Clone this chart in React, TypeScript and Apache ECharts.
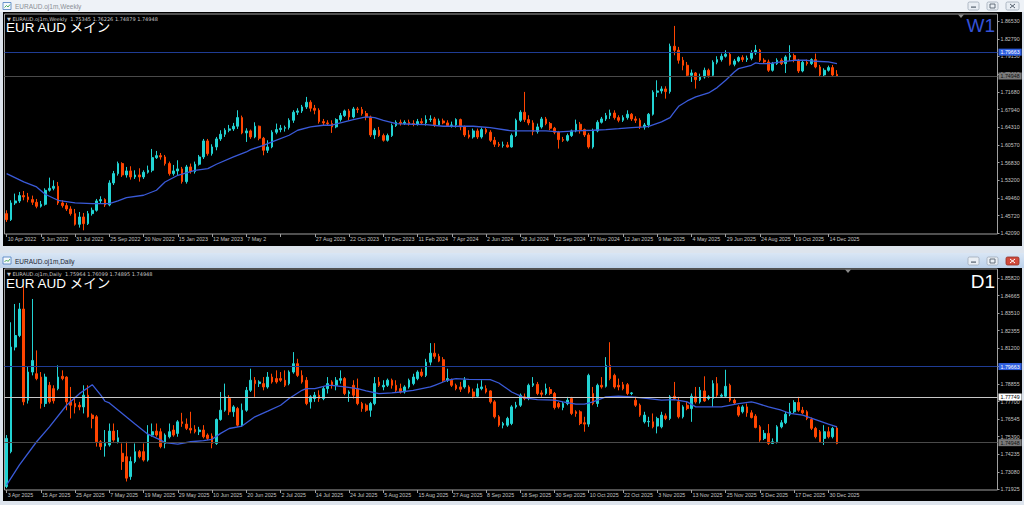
import React, { useEffect, useRef } from "react";
import * as echarts from "echarts";

// ---------- Weekly (W1) ----------
const W_TICKS = ["10 Apr 2022","5 Jun 2022","31 Jul 2022","25 Sep 2022","20 Nov 2022","15 Jan 2023","12 Mar 2023","7 May 2","","27 Aug 2023","22 Oct 2023","17 Dec 2023","11 Feb 2024","7 Apr 2024","2 Jun 2024","28 Jul 2024","22 Sep 2024","17 Nov 2024","12 Jan 2025","9 Mar 2025","4 May 2025","29 Jun 2025","24 Aug 2025","19 Oct 2025","14 Dec 2025"];
const W_PRICE_TICKS = [1.8653,1.8279,1.7915,1.7541,1.7168,1.6794,1.6431,1.6057,1.5683,1.532,1.4946,1.4572,1.4209];

const W_OPEN = [1.4615,1.4489,1.4839,1.4881,1.4993,1.4965,1.4909,1.4853,1.4769,1.4811,
1.5104,1.5146,1.5188,1.4839,1.4783,1.4713,1.4615,1.4391,1.4545,1.4405,
1.4615,1.4685,1.4881,1.4909,1.4797,1.5258,1.5454,1.5664,1.5426,1.5510,
1.5384,1.5426,1.5384,1.5482,1.5524,1.5789,1.5831,1.5803,1.5664,1.5454,
1.5510,1.5552,1.5286,1.5594,1.5496,1.5650,1.5803,1.6139,1.5873,1.6013,
1.6181,1.6279,1.6363,1.6391,1.6447,1.6628,1.6307,1.6349,1.6223,1.6447,
1.6195,1.5943,1.6013,1.6321,1.6377,1.6405,1.6419,1.6572,1.6740,1.6768,
1.6852,1.6950,1.6824,1.6782,1.6544,1.6517,1.6503,1.6433,1.6586,1.6670,
1.6768,1.6642,1.6810,1.6796,1.6712,1.6642,1.6265,1.6363,1.6251,1.6153,
1.6251,1.6461,1.6530,1.6503,1.6530,1.6503,1.6489,1.6544,1.6517,1.6586,
1.6600,1.6475,1.6558,1.6517,1.6461,1.6475,1.6586,1.6433,1.6265,1.6223,
1.6349,1.6223,1.6377,1.6321,1.6153,1.6069,1.6048,1.6055,1.6013,1.6251,
1.6572,1.6740,1.6586,1.6517,1.6335,1.6433,1.6600,1.6503,1.6405,1.6321,
1.6167,1.6153,1.6251,1.6349,1.6489,1.6377,1.6265,1.6013,1.6349,1.6530,1.6600,
1.6670,1.6725,1.6628,1.6572,1.6628,1.6698,1.6600,1.6572,1.6432,1.6474,
1.6698,1.7159,1.7187,1.7229,1.7173,1.8124,1.8040,1.7830,1.7725,1.7515,
1.7564,1.7424,1.7480,1.7620,1.7515,1.7788,1.7844,1.7914,1.7956,1.7746,
1.7816,1.7886,1.7844,1.7872,1.7984,1.8040,1.7830,1.7795,1.7620,1.7760,
1.7830,1.7760,1.7900,1.7928,1.7830,1.7606,1.7788,1.7760,1.7844,1.7690,
1.7522,1.7620,1.7676,1.75345];
const W_CLOSE = [1.4489,1.4839,1.4881,1.4993,1.4965,1.4909,1.4853,1.4769,1.4811,1.5104,
1.5146,1.5188,1.4839,1.4783,1.4713,1.4615,1.4391,1.4545,1.4405,1.4615,
1.4685,1.4881,1.4909,1.4797,1.5258,1.5454,1.5664,1.5426,1.5510,1.5384,
1.5426,1.5384,1.5482,1.5524,1.5789,1.5831,1.5803,1.5664,1.5454,1.5510,
1.5552,1.5286,1.5594,1.5496,1.5650,1.5803,1.6139,1.5873,1.6013,1.6181,
1.6279,1.6363,1.6391,1.6447,1.6628,1.6307,1.6349,1.6223,1.6447,1.6195,
1.5943,1.6013,1.6321,1.6377,1.6405,1.6419,1.6572,1.6740,1.6768,1.6852,
1.6950,1.6824,1.6782,1.6544,1.6517,1.6503,1.6433,1.6586,1.6670,1.6768,
1.6642,1.6810,1.6796,1.6712,1.6642,1.6265,1.6363,1.6251,1.6153,1.6251,
1.6461,1.6530,1.6503,1.6530,1.6503,1.6489,1.6544,1.6517,1.6586,1.6600,
1.6475,1.6558,1.6517,1.6461,1.6475,1.6586,1.6433,1.6265,1.6223,1.6349,
1.6223,1.6377,1.6321,1.6153,1.6069,1.6048,1.6055,1.6013,1.6251,1.6572,
1.6740,1.6586,1.6517,1.6335,1.6433,1.6600,1.6503,1.6405,1.6321,1.6167,
1.6153,1.6251,1.6349,1.6489,1.6377,1.6265,1.6013,1.6349,1.6530,1.6600,1.6670,
1.6725,1.6628,1.6572,1.6628,1.6698,1.6600,1.6572,1.6432,1.6474,1.6698,
1.7159,1.7187,1.7229,1.7173,1.8124,1.8040,1.7830,1.7725,1.7515,1.7564,
1.7424,1.7480,1.7620,1.7515,1.7788,1.7844,1.7914,1.7956,1.7746,1.7816,
1.7886,1.7844,1.7872,1.7984,1.8040,1.7830,1.7795,1.7620,1.7760,1.7830,
1.7760,1.7900,1.7928,1.7830,1.7606,1.7788,1.7760,1.7844,1.7690,1.7522,
1.7620,1.7676,1.7522,1.74948];
const W_HIGH = [1.4685,1.4895,1.5035,1.5070,1.5090,1.5049,1.4993,1.4923,1.4881,1.5146,
1.5370,1.5314,1.5279,1.4895,1.4839,1.4769,1.4713,1.4650,1.4629,1.4671,
1.4741,1.4923,1.4979,1.4937,1.5314,1.5510,1.5706,1.5692,1.5594,1.5608,
1.5524,1.5566,1.5524,1.5622,1.5971,1.5929,1.5887,1.5845,1.5706,1.5636,
1.5734,1.5594,1.5636,1.5664,1.5706,1.5845,1.6181,1.6181,1.6069,1.6223,
1.6363,1.6405,1.6475,1.6517,1.6782,1.6670,1.6405,1.6377,1.6530,1.6461,
1.6223,1.6153,1.6363,1.6503,1.6475,1.6461,1.6614,1.6782,1.6824,1.6894,
1.7062,1.6992,1.6894,1.6824,1.6600,1.6572,1.6572,1.6614,1.6726,1.6796,
1.6810,1.6852,1.6852,1.6852,1.6768,1.6670,1.6405,1.6433,1.6293,1.6293,
1.6503,1.6572,1.6586,1.6572,1.6586,1.6572,1.6600,1.6614,1.6677,1.6677,
1.6642,1.6607,1.6607,1.6572,1.6544,1.6614,1.6607,1.6461,1.6363,1.6398,
1.6398,1.6419,1.6419,1.6363,1.6223,1.6118,1.6125,1.6118,1.6293,1.6607,
1.6782,1.7167,1.6677,1.6572,1.6503,1.6642,1.6642,1.6537,1.6433,1.6349,
1.6223,1.6293,1.6377,1.6586,1.6537,1.6398,1.6307,1.6398,1.6572,1.6642,1.6726,
1.6795,1.6781,1.6677,1.6677,1.6781,1.6725,1.6656,1.6614,1.6516,1.6725,
1.7201,1.7410,1.7285,1.7285,1.8179,1.8550,1.8110,1.7900,1.7795,1.7634,
1.7585,1.7550,1.7676,1.7655,1.7830,1.7914,1.7970,1.8040,1.7984,1.7858,
1.7914,1.7935,1.7928,1.8040,1.8151,1.8068,1.7872,1.7844,1.7795,1.7872,
1.7872,1.7935,1.8145,1.7970,1.7858,1.7816,1.7844,1.7872,1.7970,1.7732,
1.7662,1.7718,1.7732,1.76226];
const W_LOW = [1.4440,1.4461,1.4797,1.4839,1.4895,1.4853,1.4797,1.4727,1.4741,1.4783,
1.5076,1.5104,1.4797,1.4741,1.4671,1.4573,1.4364,1.4322,1.4266,1.4377,
1.4573,1.4657,1.4825,1.4755,1.4769,1.5216,1.5412,1.5384,1.5370,1.5328,
1.5342,1.5286,1.5342,1.5454,1.5482,1.5761,1.5747,1.5622,1.5412,1.5412,
1.5426,1.5244,1.5244,1.5454,1.5454,1.5622,1.5761,1.5831,1.5831,1.5943,
1.6139,1.6223,1.6321,1.6349,1.6391,1.6279,1.6118,1.6181,1.6195,1.6153,
1.5838,1.5887,1.5985,1.6279,1.6321,1.6335,1.6377,1.6517,1.6684,1.6726,
1.6810,1.6754,1.6698,1.6503,1.6461,1.6461,1.6307,1.6405,1.6544,1.6642,
1.6572,1.6614,1.6726,1.6670,1.6572,1.6223,1.6181,1.6223,1.6125,1.6125,
1.6223,1.6433,1.6461,1.6475,1.6461,1.6447,1.6461,1.6489,1.6461,1.6537,
1.6433,1.6461,1.6489,1.6433,1.6419,1.6419,1.6363,1.6223,1.6188,1.6188,
1.6181,1.6188,1.6279,1.6118,1.6013,1.6013,1.5999,1.5999,1.5999,1.6223,
1.6537,1.6537,1.6468,1.6258,1.6293,1.6398,1.6468,1.6363,1.6279,1.5978,
1.6118,1.6125,1.6223,1.6321,1.6293,1.6223,1.5978,1.5978,1.6321,1.6503,1.6558,
1.6600,1.6586,1.6530,1.6537,1.6586,1.6558,1.6516,1.6390,1.6376,1.6418,
1.6670,1.7061,1.7131,1.7026,1.7131,1.7935,1.7760,1.7620,1.7480,1.7376,
1.7236,1.7397,1.7445,1.7466,1.7480,1.7746,1.7802,1.7886,1.7718,1.7704,
1.7788,1.7795,1.7795,1.7830,1.7942,1.7795,1.7760,1.7585,1.7592,1.7732,
1.7732,1.7564,1.7816,1.7788,1.7564,1.7578,1.7718,1.7732,1.7662,1.7480,
1.7494,1.7592,1.7494,1.74879];
// moving average: [bar index, price]
const W_MA: [number, number][] = [[0,1.5454],[4,1.5279],[7,1.5174],[9,1.5021],[12,1.4895],[16,1.4839],[20,1.4825],[24,1.4825],[26,1.4881],[28,1.4951],[32,1.5000],[35,1.5105],[37,1.5279],[40,1.5419],[44,1.5524],[47,1.5559],[49,1.5650],[53,1.5804],[56,1.5908],[57,1.5957],[60,1.6048],[62,1.6118],[66,1.6258],[68,1.6363],[71,1.6433],[74,1.6468],[76,1.6468],[78,1.6517],[81,1.6586],[84,1.6642],[86,1.6628],[88,1.6572],[91,1.6502],[95,1.6489],[98,1.6482],[102,1.6447],[106,1.6447],[109,1.6447],[113,1.6419],[117,1.6363],[118,1.6349],[122,1.6349],[126,1.6349],[129,1.6328],[133,1.6349],[137,1.6363],[140,1.6377],[143,1.6397],[146,1.6418],[149,1.6432],[150,1.6446],[153,1.6537],[155,1.6628],[156,1.6746],[157,1.6865],[159,1.6977],[161,1.7061],[164,1.7145],[166,1.7257],[168,1.7410],[170,1.7585],[171,1.7655],[174,1.7725],[175,1.7774],[176,1.7760],[178,1.7760],[181,1.7795],[184,1.7830],[187,1.7830],[189,1.7809],[192,1.7795],[194,1.7760]];

// ---------- Daily (D1) ----------
const D_TICKS = ["3 Apr 2025","15 Apr 2025","25 Apr 2025","7 May 2025","19 May 2025","29 May 2025","10 Jun 2025","20 Jun 2025","2 Jul 2025","14 Jul 2025","24 Jul 2025","5 Aug 2025","15 Aug 2025","27 Aug 2025","8 Sep 2025","18 Sep 2025","30 Sep 2025","10 Oct 2025","22 Oct 2025","3 Nov 2025","13 Nov 2025","25 Nov 2025","5 Dec 2025","17 Dec 2025","30 Dec 2025"];
const D_PRICE_TICKS = [1.8582,1.84665,1.8351,1.82355,1.812,1.80045,1.78855,1.777,1.76545,1.7539,1.74235,1.7308,1.71925];

const D_OPEN = [1.7212,1.7441,1.8128,1.8204,1.8378,1.7779,1.7964,1.7953,1.7931,1.7757,
1.7877,1.7855,1.7855,1.7936,1.7931,1.7768,1.7757,1.7746,1.7735,1.7812,
1.7681,1.7670,1.7506,1.7478,1.7485,1.7576,1.7506,1.7430,1.7408,1.7277,
1.7376,1.7441,1.7441,1.7386,1.7550,1.7576,1.7572,1.7495,1.7539,1.7583,
1.7561,1.7637,1.7622,1.7594,1.7587,1.7572,1.7583,1.7550,1.7543,1.7495,
1.7652,1.7713,1.7790,1.7703,1.7724,1.7615,1.7713,1.7844,1.7910,1.7888,
1.7888,1.7866,1.7931,1.7921,1.7921,1.7910,1.7888,1.7964,1.8019,1.7942,
1.7910,1.7768,1.7790,1.7812,1.7790,1.7855,1.7899,1.7877,1.7910,1.7921,
1.7823,1.7877,1.7855,1.7757,1.7746,1.7713,1.7757,1.7899,1.7866,1.7877,
1.7910,1.7877,1.7855,1.7833,1.7866,1.7888,1.7921,1.7964,1.7942,1.8029,
1.8088,1.8067,1.8045,1.7910,1.7910,1.7877,1.7866,1.7866,1.7866,1.7833,
1.7805,1.7855,1.7855,1.7840,1.7768,1.7670,1.7615,1.7615,1.7626,1.7735,
1.7746,1.7801,1.7790,1.7877,1.7883,1.7827,1.7823,1.7849,1.7823,1.7757,
1.7731,1.7757,1.7790,1.7703,1.7703,1.7631,1.7622,1.7823,1.7757,1.7877,
1.7870,1.8008,1.7942,1.7877,1.7881,1.7881,1.7823,1.7779,1.7746,1.7637,
1.7637,1.7637,1.7609,1.7604,1.7676,1.7659,1.7805,1.7768,1.7670,1.7746,
1.7724,1.7801,1.7768,1.7840,1.7790,1.7790,1.7888,1.7805,1.7805,1.7877,
1.7779,1.7735,1.7703,1.7735,1.7696,1.7674,1.7604,1.7528,1.7561,1.7495,
1.7506,1.7604,1.7631,1.7687,1.7703,1.7764,1.7713,1.7703,1.7652,1.7594,
1.7572,1.7528,1.7572,1.7539,1.75964];
const D_CLOSE = [1.7528,1.8128,1.8204,1.8378,1.7768,1.7964,1.8040,1.7921,1.7757,1.7931,
1.7768,1.7775,1.7931,1.7921,1.7768,1.7746,1.7735,1.7735,1.7812,1.7670,
1.7659,1.7506,1.7474,1.7495,1.7576,1.7517,1.7532,1.7376,1.7267,1.7376,
1.7441,1.7408,1.7386,1.7550,1.7572,1.7550,1.7474,1.7550,1.7572,1.7550,
1.7637,1.7626,1.7594,1.7583,1.7572,1.7583,1.7539,1.7528,1.7495,1.7652,
1.7713,1.7801,1.7703,1.7735,1.7615,1.7713,1.7844,1.7910,1.7888,1.7899,
1.7866,1.7931,1.7899,1.7899,1.7910,1.7877,1.7964,1.8019,1.7942,1.7899,
1.7757,1.7801,1.7812,1.7790,1.7855,1.7888,1.7877,1.7910,1.7921,1.7823,
1.7833,1.7812,1.7757,1.7724,1.7713,1.7757,1.7888,1.7877,1.7877,1.7910,
1.7877,1.7844,1.7833,1.7866,1.7910,1.7931,1.7964,1.7942,1.8029,1.8088,
1.8067,1.8036,1.7910,1.7921,1.7877,1.7855,1.7851,1.7910,1.7833,1.7805,
1.7855,1.7866,1.7833,1.7768,1.7670,1.7615,1.7626,1.7659,1.7735,1.7746,
1.7812,1.7790,1.7877,1.7888,1.7823,1.7818,1.7855,1.7823,1.7731,1.7735,
1.7757,1.7779,1.7692,1.7692,1.7626,1.7622,1.7942,1.7757,1.7877,1.7866,
1.8008,1.7921,1.7866,1.7866,1.7855,1.7823,1.7827,1.7746,1.7681,1.7681,
1.7640,1.7604,1.7659,1.7681,1.7659,1.7801,1.7790,1.7670,1.7735,1.7724,
1.7805,1.7768,1.7844,1.7774,1.7801,1.7888,1.7812,1.7812,1.7870,1.7779,
1.7761,1.7681,1.7735,1.7696,1.7665,1.7600,1.7517,1.7561,1.7495,1.7506,
1.7604,1.7631,1.7687,1.7703,1.7764,1.7713,1.7696,1.7659,1.7594,1.7539,
1.7506,1.7572,1.7539,1.7594,1.74948];
const D_HIGH = [1.7550,1.8291,1.8411,1.8418,1.8542,1.7997,1.8444,1.8106,1.7964,1.7953,
1.7899,1.7877,1.8008,1.7975,1.7936,1.7866,1.7801,1.7768,1.7877,1.7877,
1.7692,1.7681,1.7517,1.7583,1.7626,1.7626,1.7583,1.7495,1.7506,1.7408,
1.7495,1.7452,1.7495,1.7615,1.7626,1.7626,1.7594,1.7561,1.7626,1.7615,
1.7648,1.7696,1.7659,1.7703,1.7615,1.7604,1.7615,1.7561,1.7561,1.7659,
1.7833,1.7888,1.7812,1.7746,1.7735,1.7757,1.7866,1.7986,1.7931,1.7910,
1.7931,1.7964,1.7953,1.7975,1.7964,1.7975,1.7975,1.8095,1.8051,1.7975,
1.7931,1.7812,1.7833,1.7844,1.7866,1.7931,1.7910,1.7931,1.7975,1.7931,
1.7844,1.7910,1.7921,1.7768,1.7757,1.7768,1.7931,1.7931,1.7910,1.7921,
1.7921,1.7910,1.7888,1.7877,1.7921,1.7953,1.7975,1.7986,1.8051,1.8154,
1.8154,1.8084,1.8062,1.7986,1.7921,1.7888,1.7899,1.7931,1.7877,1.7855,
1.7888,1.7910,1.7877,1.7844,1.7779,1.7681,1.7637,1.7670,1.7746,1.7768,
1.7823,1.7823,1.7888,1.7931,1.7899,1.7844,1.7888,1.7866,1.7833,1.7768,
1.7768,1.7801,1.7801,1.7713,1.7713,1.7670,1.7953,1.7866,1.7888,1.7931,
1.8062,1.8160,1.7953,1.7921,1.7899,1.7892,1.7833,1.7801,1.7757,1.7703,
1.7670,1.7692,1.7670,1.7703,1.7692,1.7812,1.7899,1.7801,1.7746,1.7768,
1.7823,1.7866,1.7866,1.7936,1.7812,1.7910,1.7931,1.7823,1.7979,1.7888,
1.7790,1.7746,1.7746,1.7757,1.7713,1.7687,1.7615,1.7583,1.7622,1.7528,
1.7615,1.7648,1.7703,1.7761,1.7779,1.7801,1.7735,1.7713,1.7665,1.7604,
1.7583,1.7615,1.7604,1.7604,1.76099];
const D_LOW = [1.7201,1.7430,1.8106,1.8193,1.7746,1.7757,1.7942,1.7910,1.7724,1.7735,
1.7757,1.7757,1.7844,1.7910,1.7713,1.7659,1.7692,1.7713,1.7692,1.7665,
1.7594,1.7474,1.7452,1.7408,1.7474,1.7506,1.7495,1.7321,1.7245,1.7256,
1.7365,1.7397,1.7376,1.7376,1.7539,1.7539,1.7463,1.7463,1.7528,1.7539,
1.7539,1.7604,1.7583,1.7561,1.7561,1.7550,1.7528,1.7517,1.7463,1.7485,
1.7644,1.7703,1.7681,1.7670,1.7604,1.7604,1.7703,1.7833,1.7801,1.7866,
1.7844,1.7855,1.7888,1.7888,1.7899,1.7866,1.7877,1.7953,1.7931,1.7888,
1.7746,1.7724,1.7768,1.7768,1.7779,1.7823,1.7855,1.7844,1.7888,1.7812,
1.7768,1.7790,1.7746,1.7703,1.7703,1.7670,1.7746,1.7866,1.7844,1.7866,
1.7855,1.7833,1.7823,1.7823,1.7855,1.7877,1.7910,1.7931,1.7931,1.8008,
1.8051,1.8029,1.7899,1.7899,1.7866,1.7844,1.7833,1.7855,1.7823,1.7790,
1.7796,1.7844,1.7823,1.7757,1.7659,1.7604,1.7594,1.7604,1.7615,1.7724,
1.7735,1.7779,1.7779,1.7866,1.7812,1.7801,1.7812,1.7812,1.7718,1.7724,
1.7713,1.7746,1.7681,1.7670,1.7615,1.7572,1.7604,1.7746,1.7735,1.7855,
1.7862,1.7910,1.7855,1.7844,1.7844,1.7812,1.7812,1.7735,1.7670,1.7626,
1.7604,1.7594,1.7561,1.7594,1.7648,1.7648,1.7779,1.7659,1.7659,1.7713,
1.7637,1.7757,1.7757,1.7768,1.7779,1.7735,1.7801,1.7796,1.7796,1.7768,
1.7753,1.7670,1.7692,1.7670,1.7659,1.7594,1.7506,1.7517,1.7485,1.7491,
1.7495,1.7594,1.7622,1.7674,1.7692,1.7703,1.7687,1.7648,1.7583,1.7528,
1.7500,1.7485,1.7528,1.7528,1.74895];
const D_MA: [number, number][] = [[0,1.7223],[3,1.7354],[7,1.7506],[10,1.7604],[14,1.7746],[17,1.7822],[20,1.7881],[22,1.7812],[23,1.7772],[24,1.7761],[27,1.7692],[30,1.7622],[33,1.7556],[36,1.7517],[37,1.7500],[40,1.7491],[43,1.7506],[46,1.7513],[48,1.7522],[50,1.7561],[52,1.7593],[55,1.7609],[58,1.7670],[61,1.7707],[64,1.7746],[66,1.7790],[69,1.7844],[70,1.7855],[72,1.7855],[75,1.7877],[76,1.7877],[79,1.7866],[82,1.7855],[84,1.7840],[87,1.7822],[90,1.7827],[92,1.7833],[95,1.7844],[99,1.7866],[100,1.7877],[103,1.7910],[105,1.7921],[108,1.7916],[113,1.7914],[115,1.7892],[118,1.7833],[121,1.7794],[124,1.7783],[128,1.7779],[130,1.7768],[133,1.7753],[135,1.7753],[137,1.7768],[140,1.7801],[143,1.7805],[146,1.7801],[150,1.7790],[153,1.7779],[156,1.7783],[159,1.7768],[161,1.7735],[164,1.7735],[167,1.7735],[171,1.7757],[174,1.7768],[175,1.7761],[178,1.7735],[181,1.7713],[183,1.7692],[186,1.7681],[189,1.7652],[192,1.7622],[194,1.7604]];

// horizontal levels
const BLUE_LEVEL = 1.79663;
const WHITE_LEVEL = 1.77749;
const LAST_PRICE = 1.74948;

const SLOTS = 232;
const TICK_EVERY = 8;
const BULL = "#22d3d3";
const BEAR = "#ff4500";
const LABEL_FONT = "Liberation Sans";
const AXIS_TXT = "#c4c4c4";
const FRAME = "#a0a0a0";

function xAxisFor(gridIndex: number, ticks: string[]) {
  const show = (i: number) => i % TICK_EVERY === 0 && i / TICK_EVERY < ticks.length;
  return {
    type: "category",
    gridIndex,
    data: Array.from({ length: SLOTS }, (_, i) => String(i)),
    boundaryGap: true,
    axisLine: { show: false },
    splitLine: { show: false },
    axisTick: { show: true, alignWithLabel: true, interval: show, length: 3, lineStyle: { color: FRAME } },
    axisLabel: {
      show: true,
      interval: show,
      formatter: (_v: string, i: number) => ticks[i / TICK_EVERY] ?? "",
      align: "left",
      margin: 2,
      padding: [0, 0, 0, 1],
      color: AXIS_TXT,
      fontSize: 5.3,
      fontFamily: LABEL_FONT,
    },
  };
}

function yAxisFor(gridIndex: number, min: number, max: number, ticks: number[]) {
  return {
    type: "value",
    gridIndex,
    position: "right",
    min,
    max,
    axisLine: { show: false },
    splitLine: { show: false },
    axisTick: { show: true, length: 2, customValues: ticks, lineStyle: { color: FRAME } },
    axisLabel: {
      customValues: ticks,
      formatter: (v: number) => v.toFixed(5),
      color: AXIS_TXT,
      fontSize: 5.3,
      fontFamily: LABEL_FONT,
      margin: 3,
    },
  };
}

function levelLine(value: number, line: string, box: string, text: string) {
  return {
    yAxis: value,
    lineStyle: { color: line, width: 1, type: "solid" },
    label: {
      show: true,
      position: "end",
      distance: 1,
      formatter: value.toFixed(5),
      backgroundColor: box,
      color: text,
      fontSize: 5.3,
      fontFamily: LABEL_FONT,
      padding: [1, 2, 1, 2],
    },
  };
}

function candleSeries(idx: number, o: number[], c: number[], l: number[], h: number[], levels: any[]) {
  return {
    type: "candlestick",
    xAxisIndex: idx,
    yAxisIndex: idx,
    barWidth: 2.2,
    data: o.map((v, i) => [v, c[i], l[i], h[i]]),
    itemStyle: { color: BULL, color0: BEAR, borderColor: BULL, borderColor0: BEAR, borderWidth: 1 },
    markLine: { symbol: ["none", "none"], silent: true, animation: false, data: levels },
    z: 2,
  };
}

function maSeries(idx: number, pts: [number, number][]) {
  return {
    type: "line",
    xAxisIndex: idx,
    yAxisIndex: idx,
    data: pts,
    showSymbol: false,
    symbol: "none",
    lineStyle: { color: "#3a5ad8", width: 1.3 },
    z: 4,
  };
}

function txt(x: number, y: number, text: string, fill: string, size: number, family = LABEL_FONT, align = "left") {
  return {
    type: "text",
    x,
    y,
    z: 100,
    silent: true,
    style: { text, fill, fontSize: size, fontFamily: family, align, verticalAlign: "middle", textAlign: align, textVerticalAlign: "middle" },
  };
}

function winButtons(y: number, active: boolean) {
  const xs = [968, 987, 1006];
  const out: any[] = [];
  xs.forEach((x, k) => {
    const w = k === 2 ? 13 : 11;
    const isClose = k === 2 && active;
    out.push({
      type: "rect", z: 90, silent: true,
      shape: { x, y, width: w, height: 8, r: 1.5 },
      style: { fill: isClose ? "#d04a3c" : "#e9eef4", stroke: isClose ? "#8f2f25" : "#9ea9b8", lineWidth: 0.8 },
    });
    if (k === 0) out.push({ type: "rect", z: 91, silent: true, shape: { x: x + 3, y: y + 4.5, width: 5, height: 1.2 }, style: { fill: "#55606e" } });
    if (k === 1) out.push({ type: "rect", z: 91, silent: true, shape: { x: x + 3, y: y + 2, width: 5, height: 4 }, style: { fill: "none", stroke: "#55606e", lineWidth: 0.9 } });
    if (k === 2) {
      const col = isClose ? "#ffffff" : "#55606e";
      out.push({ type: "line", z: 91, silent: true, shape: { x1: x + 4, y1: y + 2, x2: x + 9, y2: y + 6 }, style: { stroke: col, lineWidth: 1 } });
      out.push({ type: "line", z: 91, silent: true, shape: { x1: x + 9, y1: y + 2, x2: x + 4, y2: y + 6 }, style: { stroke: col, lineWidth: 1 } });
    }
  });
  return out;
}

function winIcon(x: number, y: number) {
  return [
    { type: "rect", z: 90, silent: true, shape: { x, y, width: 8, height: 7 }, style: { fill: "#f4f8fc", stroke: "#4a7cc0", lineWidth: 0.8 } },
    { type: "polyline", z: 91, silent: true, shape: { points: [[x + 1.5, y + 5], [x + 3.5, y + 3], [x + 5, y + 4.5], [x + 7, y + 2]] }, style: { stroke: "#2a9a3a", lineWidth: 0.8, fill: "none" } },
  ];
}

export default function App() {
  const ref = useRef<HTMLDivElement>(null);

  useEffect(() => {
    if (!ref.current) return;
    const chart = echarts.init(ref.current, undefined, { renderer: "svg" });

    const graphic: any[] = [
      // weekly window
      { type: "rect", z: -10, silent: true, shape: { x: 0, y: 0, width: 1024, height: 12 }, style: { fill: "#eef2f7" } },
      { type: "rect", z: -10, silent: true, shape: { x: 3, y: 12, width: 1019, height: 234 }, style: { fill: "#000000" } },
      ...winIcon(3, 2.5),
      txt(15, 6.5, "EURAUD.oj1m,Weekly", "#8b8f96", 6.5),
      ...winButtons(2, false),
      // daily window
      { type: "rect", z: -10, silent: true, shape: { x: 0, y: 253, width: 1024, height: 15 }, style: { fill: new echarts.graphic.LinearGradient(0, 0, 0, 1, [{ offset: 0, color: "#d9e6f5" }, { offset: 1, color: "#bcd1ea" }]) } },
      { type: "rect", z: -10, silent: true, shape: { x: 3, y: 268, width: 1019, height: 233 }, style: { fill: "#000000" } },
      ...winIcon(3, 257),
      txt(15, 261.5, "EURAUD.oj1m,Daily", "#1e2633", 6.5),
      ...winButtons(257, true),
      // chart headers
      txt(7, 18.5, "▼ EURAUD.oj1m,Weekly  1.75345 1.76226 1.74879 1.74948", "#c8c8c8", 5, "DejaVu Sans"),
      txt(6, 27.5, "EUR AUD メイン", "#ffffff", 13.5, "'Liberation Sans', 'Noto Sans CJK JP', sans-serif"),
      txt(995, 25, "W1", "#3552d6", 19, "'Liberation Sans', sans-serif", "right"),
      txt(7, 273.5, "▼ EURAUD.oj1m,Daily  1.75964 1.76099 1.74895 1.74948", "#c8c8c8", 5, "DejaVu Sans"),
      txt(6, 283, "EUR AUD メイン", "#ffffff", 13.5, "'Liberation Sans', 'Noto Sans CJK JP', sans-serif"),
      txt(995, 281, "D1", "#ffffff", 19, "'Liberation Sans', sans-serif", "right"),
      // chart shift markers
      { type: "polygon", z: 100, silent: true, shape: { points: [[958, 14.5], [964, 14.5], [961, 18]] }, style: { fill: "#8a8a8a" } },
      { type: "polygon", z: 100, silent: true, shape: { points: [[845, 269.5], [851, 269.5], [848, 273]] }, style: { fill: "#8a8a8a" } },
    ];

    chart.setOption({
      animation: false,
      backgroundColor: "#dde4ed",
      graphic,
      grid: [
        { left: 4.5, top: 14, width: 993, height: 220, show: true, borderColor: FRAME, borderWidth: 1, backgroundColor: "transparent", containLabel: false },
        { left: 4.5, top: 269, width: 993, height: 221, show: true, borderColor: FRAME, borderWidth: 1, backgroundColor: "transparent", containLabel: false },
      ],
      xAxis: [xAxisFor(0, W_TICKS), xAxisFor(1, D_TICKS)],
      yAxis: [yAxisFor(0, 1.4188, 1.88, W_PRICE_TICKS), yAxisFor(1, 1.7189, 1.8641, D_PRICE_TICKS)],
      series: [
        candleSeries(0, W_OPEN, W_CLOSE, W_LOW, W_HIGH, [
          levelLine(BLUE_LEVEL, "#1f3c94", "#2f5fe0", "#ffffff"),
          levelLine(LAST_PRICE, "#4a4a4a", "#7a7a7a", "#101010"),
        ]),
        maSeries(0, W_MA),
        candleSeries(1, D_OPEN, D_CLOSE, D_LOW, D_HIGH, [
          levelLine(BLUE_LEVEL, "#1f3c94", "#2f5fe0", "#ffffff"),
          levelLine(WHITE_LEVEL, "#c8c8c8", "#ffffff", "#000000"),
          levelLine(LAST_PRICE, "#4a4a4a", "#7a7a7a", "#101010"),
        ]),
        maSeries(1, D_MA),
      ],
    });

    return () => chart.dispose();
  }, []);

  return <div ref={ref} style={{ position: "fixed", left: 0, top: 0, width: 1024, height: 505 }} />;
}
